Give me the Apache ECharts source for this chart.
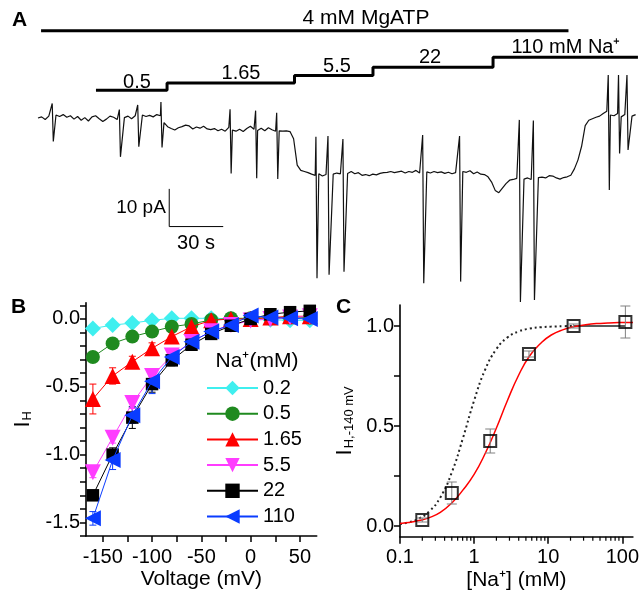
<!DOCTYPE html>
<html><head><meta charset="utf-8">
<script src="https://cdn.jsdelivr.net/npm/echarts@6/dist/echarts.min.js"></script>
<style>html,body{margin:0;padding:0;background:#fff}#c{width:642px;height:597px}</style>
</head><body><div id="c"></div>
<script>
const FONT = "'Liberation Sans', Arial, Helvetica, sans-serif";

// ---------- Panel A : current trace (time in s, current in pA) ----------
const traceDt = 2;
const traceCurrent = [
  0, 0.3, -0.4, 0.5, 0.2, 0.8, 0.4, 0.9, 0.2, 0.6,
  -0.3, 0.4, -0.6, 0.1, -0.8, 0.3, 0.6, -0.2, -0.9, -0.3,
  0.5, 0.2, -0.4, -0.9, 0.1, 0.5, -0.2, 0.6, 0.2, 0.8,
  0.4, 0.7, 0.3, 0.9, 0.6, -1.2, -2.3, -2.8, -3.2, -2.6,
  -2.3, -1.9, -2.1, -2.9, -2.4, -2.7, -2.2, -2.9, -3.1, -2.8,
  -3.4, -3.0, -3.5, -2.5, -3.2, -3.5, -3.0, -3.6, -2.8, -2.2,
  -3.0, -3.3, -2.7, -3.4, -2.6, -3.1, -3.5, -3.4, -3.5, -3.4,
  -3.6, -5.5, -12.5, -13.9, -14.2, -14.5, -14.9, -15.2, -14.8, -15.4,
  -15.0, -14.3, -14.9, -14.6, -14.8, -14.4, -14.7, -14.2, -14.8, -14.5,
  -15.2, -15.0, -15.3, -14.9, -15.1, -14.7, -14.5, -14.4, -14.2, -14.5,
  -14.3, -14.1, -14.6, -14.2, -14.4, -13.9, -14.6, -14.8, -14.3, -14.6,
  -14.2, -14.5, -14.3, -14.7, -14.4, -14.8, -14.5, -14.9, -14.2, -14.4,
  -14.0, -14.8, -14.3, -14.9, -15.0, -15.6, -17.0, -19.2, -19.8, -18.6,
  -17.4, -16.5, -16.3, -16.0, -16.4, -16.2, -15.9, -16.3, -16.1, -15.8,
  -15.7, -15.9, -15.3, -15.4, -15.9, -16.2, -15.8, -15.6, -15.2, -13.5,
  -11.1, -7.5, -2.0, -0.6, -0.2, 0.2, 0.5, 1.2, 1.8, 0.8,
  0.6, 1.2, 0.3, 0.9, 0.1, 0.5, 0.9
];
const spikeTimes = [7.9, 45.2, 55.4, 68.3, 106.7, 120.9, 132.6, 154.4, 161.1, 169.4, 213.7, 234.2, 267.4, 275.2, 316.8, 322.5, 327.2];
const spikeUp    = [3.85, 2.25, 3.45, 4.25, 2.3, 1.95, 1.4, -4.95, -4.8, -5.6, -4.5, -4.8, -0.5, -0.65, 11.4, 11.4, 11.4];
const spikeDown  = [-6.2, -10.3, -7.6, -7.8, -14.7, -16.0, -16.2, -42.5, -41.6, -40.8, -43.8, -43.4, -48.8, -48.3, -19.1, -9.4, -8.5];
const naStepTimes = [32.2, 71.7, 142.5, 186.1, 252.8, 333.3];
const naStepConc  = [0.5, 1.65, 5.5, 22, 110, 110];
const naStepLabels = ['0.5', '1.65', '5.5', '22', '110 mM Na\u207A'];
const mgatpTimes = [1.7, 294.7];
const mgatpConc  = [4, 4];
const scaleBarOrigin = [72.9, -28.8];
const scaleBarTime = 30;    // s
const scaleBarCurrent = 10; // pA

// ---------- Panel B : I-V curves ----------
const voltages = [-160, -140, -120, -100, -80, -60, -40, -20, 0, 20, 40, 60];
const naLevelsB = ['0.2', '0.5', '1.65', '5.5', '22', '110'];
const ih_0_2  = [-0.07, -0.045, -0.03, -0.01, 0.005, 0.005, 0.005, 0, 0, -0.005, -0.01, -0.01];
const ih_0_5  = [-0.28, -0.18, -0.13, -0.093, -0.057, -0.037, -0.007, 0.005, 0.005, 0.01, 0.01, 0.01];
const ih_1_65 = [-0.59, -0.42, -0.315, -0.216, -0.13, -0.057, -0.01, 0, 0, 0.01, 0.02, 0.02];
const ih_5_5  = [-1.13, -0.875, -0.62, -0.42, -0.27, -0.17, -0.09, -0.045, -0.012, 0, 0.01, 0.02];
const ih_22   = [-1.30, -1.0, -0.727, -0.48, -0.305, -0.19, -0.11, -0.05, 0, 0.035, 0.05, 0.06];
const ih_110  = [-1.47, -1.04, -0.71, -0.46, -0.28, -0.167, -0.093, -0.044, 0.025, 0.01, 0.005, 0];
const er_0_2  = [0, 0, 0, 0, 0, 0, 0, 0, 0, 0, 0, 0];
const er_0_5  = [0.03, 0.02, 0.02, 0.02, 0.01, 0.01, 0.01, 0.01, 0.01, 0.01, 0.01, 0.01];
const er_1_65 = [0.11, 0.06, 0.04, 0.04, 0.03, 0.02, 0.01, 0.01, 0.01, 0.01, 0.01, 0.01];
const er_5_5  = [0.04, 0.04, 0.04, 0.04, 0.03, 0.02, 0.02, 0.02, 0.02, 0.01, 0.01, 0.01];
const er_22   = [0.03, 0.05, 0.08, 0.06, 0.04, 0.03, 0.02, 0.02, 0.01, 0.01, 0.01, 0.01];
const er_110  = [0.05, 0.07, 0.06, 0.09, 0.05, 0.03, 0.02, 0.02, 0.02, 0.01, 0.01, 0.01];
const bTicksX  = [-150, -125, -100, -75, -50, -25, 0, 25, 50];
const bLabelsX = [-150, -100, -50, 0, 50];
const bTicksY  = [-1.6, -1.5, -1.4, -1.3, -1.2, -1.1, -1.0, -0.9, -0.8, -0.7, -0.6, -0.5, -0.4, -0.3, -0.2, -0.1, 0, 0.1];
const bLabelsY = [-1.5, -1.0, -0.5, 0];

// ---------- Panel C : dose response ----------
const naConc  = [0.2, 0.5, 1.65, 5.5, 22, 110];
const ihNorm  = [0.03, 0.165, 0.425, 0.86, 1.0, 1.02];
const ihNormErr = [0.01, 0.055, 0.06, 0.015, 0.01, 0.08];
const fitRedX = [0.1, 0.13, 0.18, 0.25, 0.35, 0.5, 0.7, 1, 1.4, 2, 2.8, 4, 5.6, 8, 11, 16, 22, 32, 45, 64, 90, 128, 139];
const fitRedY = [0.012, 0.017, 0.027, 0.042, 0.068, 0.115, 0.178, 0.258, 0.36, 0.49, 0.625, 0.755, 0.85, 0.915, 0.955, 0.982, 0.996, 1.006, 1.012, 1.015, 1.017, 1.018, 1.018];
const fitDotX = [0.1, 0.13, 0.18, 0.25, 0.35, 0.5, 0.7, 1, 1.4, 2, 2.8, 4, 5.6, 8, 11, 16, 22];
const fitDotY = [0.0105, 0.0185, 0.037, 0.074, 0.143, 0.268, 0.434, 0.627, 0.779, 0.885, 0.942, 0.973, 0.987, 0.994, 0.997, 0.999, 1.0];
const plateauX = [22, 110];
const plateauY = [1.0, 1.0];
const cMajorX = [0.1, 1, 10, 100];
const cMinorX = [0.2,0.3,0.4,0.5,0.6,0.7,0.8,0.9,2,3,4,5,6,7,8,9,20,30,40,50,60,70,80,90];
const cTicksY = [0, 0.25, 0.5, 0.75, 1.0];
const cLabelsY = [0, 0.5, 1.0];
const cYMin = -0.0535, cYMax = 1.105;

// ---------- build ----------
const spikeWin = spikeTimes.map(t => [t - 0.2, t + 0.9]);
let tracePts = traceCurrent.map((v, i) => [i * traceDt, v])
  .filter(p => !spikeWin.some(w => p[0] >= w[0] && p[0] <= w[1]));
spikeTimes.forEach((t, k) => { tracePts.push([t, spikeUp[k]]); tracePts.push([t + 0.6, spikeDown[k]]); });
tracePts.sort((a, b) => a[0] - b[0]);

const scaleBar = [
  [scaleBarOrigin[0], scaleBarOrigin[1] + scaleBarCurrent],
  [scaleBarOrigin[0], scaleBarOrigin[1]],
  [scaleBarOrigin[0] + scaleBarTime, scaleBarOrigin[1]]
];

const bValues = [ih_0_2, ih_0_5, ih_1_65, ih_5_5, ih_22, ih_110];
const bErrors = [er_0_2, er_0_5, er_1_65, er_5_5, er_22, er_110];
const bColors = ['#3fefef', '#1f8a1f', '#ff0000', '#ff3cff', '#000000', '#0a3cff'];
const bSymbols = ['diamond', 'circle', 'triangle', 'triangle', 'rect', 'triangle'];
const bRotate = [0, 0, 0, 180, 0, 90];
const bSizes = [16, 14, 16, 16, 12.5, 16];

const zip = (a, b) => a.map((v, i) => [v, b[i]]);

function errBars(name, xs, ys, es, color, xi, yi, cap, z) {
  const d = [];
  xs.forEach((x, i) => { if (es[i] > 0) d.push([x, ys[i] - es[i], ys[i] + es[i]]); });
  return {
    name, type: 'custom', xAxisIndex: xi, yAxisIndex: yi, z, silent: true,
    encode: { x: 0, y: [1, 2] }, data: d,
    renderItem: (p, api) => {
      const lo = api.coord([api.value(0), api.value(1)]);
      const hi = api.coord([api.value(0), api.value(2)]);
      const st = { stroke: color, lineWidth: 1 };
      return { type: 'group', children: [
        { type: 'line', shape: { x1: lo[0], y1: lo[1], x2: hi[0], y2: hi[1] }, style: st },
        { type: 'line', shape: { x1: lo[0] - cap, y1: lo[1], x2: lo[0] + cap, y2: lo[1] }, style: st },
        { type: 'line', shape: { x1: hi[0] - cap, y1: hi[1], x2: hi[0] + cap, y2: hi[1] }, style: st }
      ]};
    }
  };
}

const hidden = { show: false };
const axisTxt = { color: '#000', fontFamily: FONT, fontSize: 20 };
const axLine = { show: true, onZero: false, lineStyle: { color: '#000', width: 1.6 } };

const series = [];
// Panel A
series.push({ name: 'trace', type: 'line', xAxisIndex: 0, yAxisIndex: 0, data: tracePts, showSymbol: false,
  symbol: 'none', lineStyle: { color: '#111', width: 1.2 }, sampling: null, clip: false, silent: true });
series.push({ name: 'scalebar', type: 'line', xAxisIndex: 0, yAxisIndex: 0, data: scaleBar, symbol: 'none',
  lineStyle: { color: '#000', width: 1 }, silent: true });
series.push({ name: 'na steps', type: 'line', step: 'end', xAxisIndex: 3, yAxisIndex: 3,
  data: zip(naStepTimes, naStepConc), symbol: 'none', lineStyle: { color: '#000', width: 3 }, silent: true });
series.push({ name: 'mgatp', type: 'line', xAxisIndex: 4, yAxisIndex: 4,
  data: zip(mgatpTimes, mgatpConc), symbol: 'none', lineStyle: { color: '#000', width: 3 }, silent: true });

// Panel B
bValues.forEach((vals, k) => {
  series.push(errBars('errB' + k, voltages, vals, bErrors[k], bColors[k], 1, 1, 3.5, 2 + k * 0.1));
});
bValues.forEach((vals, k) => {
  series.push({ name: naLevelsB[k], type: 'line', xAxisIndex: 1, yAxisIndex: 1, data: zip(voltages, vals),
    symbol: bSymbols[k], symbolSize: bSizes[k], symbolRotate: bRotate[k], showAllSymbol: true,
    itemStyle: { color: bColors[k] }, lineStyle: { color: bColors[k], width: 1 }, z: 3 + k * 0.1 });
});

// Panel C
series.push({ name: 'fitDot', type: 'line', xAxisIndex: 2, yAxisIndex: 2, data: zip(fitDotX, fitDotY),
  symbol: 'none', smooth: 0.5, lineStyle: { color: '#222', width: 2, type: [2, 3] }, silent: true, z: 2 });
series.push({ name: 'plateau', type: 'line', xAxisIndex: 2, yAxisIndex: 2, data: zip(plateauX, plateauY),
  symbol: 'none', lineStyle: { color: '#222', width: 1.5 }, silent: true, z: 2 });
series.push({ name: 'fitRed', type: 'line', xAxisIndex: 2, yAxisIndex: 2, data: zip(fitRedX, fitRedY),
  symbol: 'none', smooth: 0.5, lineStyle: { color: '#ff0000', width: 1.5 }, silent: true, z: 3 });
series.push(errBars('errC', naConc, ihNorm, ihNormErr, '#808080', 2, 2, 5, 4));
series.push({ name: 'dataC', type: 'scatter', xAxisIndex: 2, yAxisIndex: 2, data: zip(naConc, ihNorm),
  symbol: 'rect', symbolSize: 12, itemStyle: { color: 'rgba(0,0,0,0)', borderColor: '#000', borderWidth: 2 }, z: 5 });

const baseGraphics = [
  { type: 'text', left: 12, top: 10, style: { text: 'A', font: 'bold 21px ' + FONT, fill: '#000' } },
  { type: 'text', left: 11, top: 297, style: { text: 'B', font: 'bold 21px ' + FONT, fill: '#000' } },
  { type: 'text', left: 336, top: 297, style: { text: 'C', font: 'bold 21px ' + FONT, fill: '#000' } },
  { type: 'text', x: 366, y: 18, style: { text: '4 mM MgATP', font: '21px ' + FONT, fill: '#000', align: 'center', verticalAlign: 'middle' } },
  { type: 'text', x: 137, y: 82, style: { text: naStepLabels[0], font: '20px ' + FONT, fill: '#000', align: 'center', verticalAlign: 'middle' } },
  { type: 'text', x: 241, y: 73, style: { text: naStepLabels[1], font: '20px ' + FONT, fill: '#000', align: 'center', verticalAlign: 'middle' } },
  { type: 'text', x: 337, y: 66, style: { text: naStepLabels[2], font: '20px ' + FONT, fill: '#000', align: 'center', verticalAlign: 'middle' } },
  { type: 'text', x: 430, y: 57, style: { text: naStepLabels[3], font: '20px ' + FONT, fill: '#000', align: 'center', verticalAlign: 'middle' } },
  { type: 'text', x: 566, y: 47, style: { text: naStepLabels[4], font: '20px ' + FONT, fill: '#000', align: 'center', verticalAlign: 'middle' } },
  { type: 'text', x: 141, y: 208, style: { text: '10 pA', font: '19px ' + FONT, fill: '#000', align: 'center', verticalAlign: 'middle' } },
  { type: 'text', x: 196, y: 243, style: { text: '30 s', font: '20px ' + FONT, fill: '#000', align: 'center', verticalAlign: 'middle' } },
  { type: 'text', x: 257, y: 361, style: { text: 'Na\u207A(mM)', font: '21px ' + FONT, fill: '#000', align: 'center', verticalAlign: 'middle' } }
];

const option = {
  animation: false,
  backgroundColor: '#fff',
  textStyle: { fontFamily: FONT },
  grid: [
    { left: 38, width: 600, top: 61.45, height: 248.82 },
    { left: 86, width: 230.7, top: 302.7, height: 233.3 },
    { left: 400, width: 236.7, top: 305, height: 231.7 },
    { left: 38, width: 600, top: 43.9, height: 56.08 },
    { left: 38, width: 600, top: 20.7, height: 20 }
  ],
  xAxis: [
    { gridIndex: 0, type: 'value', min: 0, max: 333.33, show: false },
    { gridIndex: 1, type: 'value', min: -167, max: 67, axisLine: axLine, splitLine: hidden,
      axisTick: { show: true, customValues: bTicksX, length: 6, lineStyle: { color: '#000', width: 1.5 } },
      axisLabel: { customValues: bLabelsX, margin: 11, ...axisTxt },
      name: 'Voltage (mV)', nameLocation: 'middle', nameGap: 33,
      nameTextStyle: { color: '#000', fontFamily: FONT, fontSize: 21 } },
    { gridIndex: 2, type: 'log', logBase: 10, min: 0.1, max: 139, axisLine: axLine, splitLine: hidden,
      axisTick: { show: true, customValues: cMajorX, length: 7, lineStyle: { color: '#000', width: 1.5 } },
      axisLabel: { customValues: cMajorX, margin: 11, formatter: v => String(v), ...axisTxt },
      name: '[Na\u207A] (mM)', nameLocation: 'middle', nameGap: 33,
      nameTextStyle: { color: '#000', fontFamily: FONT, fontSize: 21 } },
    { gridIndex: 3, type: 'value', min: 0, max: 333.33, show: false },
    { gridIndex: 4, type: 'value', min: 0, max: 333.33, show: false }
  ],
  yAxis: [
    { gridIndex: 0, type: 'value', min: -51, max: 15, show: false },
    { gridIndex: 1, type: 'value', min: -1.6, max: 0.12, axisLine: axLine, splitLine: hidden,
      axisTick: { show: true, customValues: bTicksY, length: 6, lineStyle: { color: '#000', width: 1.5 } },
      axisLabel: { customValues: bLabelsY, margin: 6, formatter: v => v.toFixed(1), ...axisTxt },
      name: '{i|I}{s|H}', nameLocation: 'middle', nameGap: 52, nameRotate: 90,
      nameTextStyle: { color: '#000', fontFamily: FONT, rich: {
        i: { fontSize: 22, fontFamily: FONT, color: '#000' },
        s: { fontSize: 13, fontFamily: FONT, color: '#000', verticalAlign: 'bottom', padding: [10, 0, 0, 1] } } } },
    { gridIndex: 2, type: 'value', min: cYMin, max: cYMax, axisLine: axLine, splitLine: hidden,
      axisTick: { show: true, customValues: cTicksY, length: 6, lineStyle: { color: '#000', width: 1.5 } },
      axisLabel: { customValues: cLabelsY, margin: 6, formatter: v => v.toFixed(1), ...axisTxt },
      name: '{i|I}{s|H,-140 mV}', nameLocation: 'middle', nameGap: 44, nameRotate: 90,
      nameTextStyle: { color: '#000', fontFamily: FONT, rich: {
        i: { fontSize: 22, fontFamily: FONT, color: '#000' },
        s: { fontSize: 13, fontFamily: FONT, color: '#000', verticalAlign: 'bottom', padding: [10, 0, 0, 1] } } } },
    { gridIndex: 3, type: 'log', logBase: 10, min: 0.1, max: 1000, show: false },
    { gridIndex: 4, type: 'value', min: 0, max: 8, show: false }
  ],
  legend: {
    data: naLevelsB, orient: 'vertical', left: 206, top: 378, padding: 0,
    itemWidth: 51, itemHeight: 18, itemGap: 5.7,
    textStyle: { color: '#000', fontFamily: FONT, fontSize: 20, lineHeight: 18, padding: [0, 0, 0, 0] },
    selectedMode: false
  },
  graphic: baseGraphics,
  series
};

const chart = echarts.init(document.getElementById('c'), null, { renderer: 'canvas' });
chart.setOption(option);

// Minor ticks of the log axis in panel C, placed through the axis' own scale
const minorTickEls = [];
cMinorX.forEach(v => {
  const pt = chart.convertToPixel({ xAxisIndex: 2, yAxisIndex: 2 }, [v, cYMin]);
  if (pt && isFinite(pt[0]) && isFinite(pt[1])) {
    minorTickEls.push({ type: 'line', z: 100, silent: true,
      shape: { x1: pt[0], y1: pt[1], x2: pt[0], y2: pt[1] + 4 },
      style: { stroke: '#000', lineWidth: 1.2 } });
  }
});
chart.setOption({ graphic: baseGraphics.concat(minorTickEls) });
</script></body></html>
